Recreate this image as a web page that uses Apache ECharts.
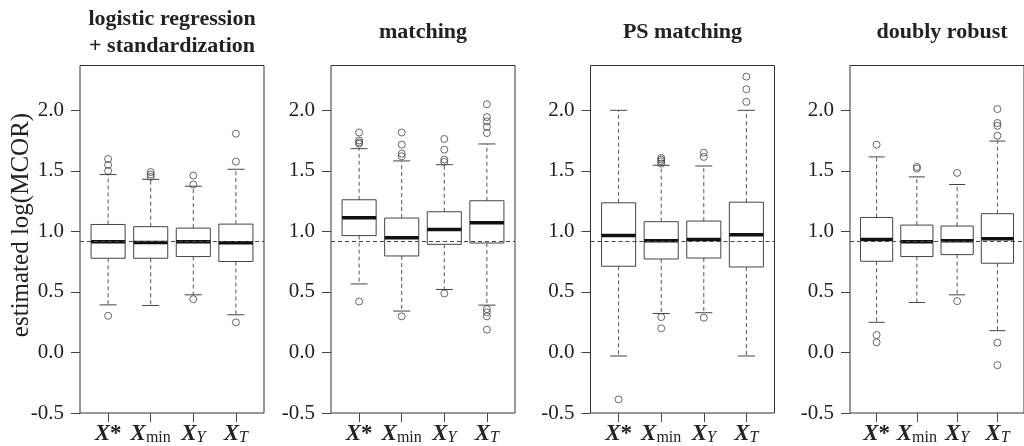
<!DOCTYPE html>
<html>
<head>
<meta charset="utf-8">
<script src="https://cdn.jsdelivr.net/npm/echarts@6/dist/echarts.min.js"></script>
<style>
  html, body { margin: 0; padding: 0; background: #fff; }
  #chart { width: 1024px; height: 446px; }
</style>
</head>
<body>
<div id="chart"></div>
<script>
// panel titles (one per estimation method)
const methodTitles = ['logistic regression\n+ standardization', 'matching', 'PS matching', 'doubly robust'];

// covariate sets, placed at 1..4 like R's boxplot
const setPositions = [1, 2, 3, 4];
const setLabels = ['{x|X}{star|*}', '{x|X}{sub|min}', '{x|X}{subi|Y}', '{x|X}{subi|T}'];

// y axis ticks
const yTicks = [-0.5, 0, 0.5, 1, 1.5, 2];

// true value drawn as the dashed line
const trueValue = 0.92;

// box stats per set: [lower whisker, Q1, median, Q3, upper whisker]
const logisticStats = [
  [0.393, 0.778, 0.915, 1.057, 1.469],
  [0.388, 0.778, 0.909, 1.039, 1.430],
  [0.476, 0.792, 0.915, 1.027, 1.373],
  [0.311, 0.751, 0.907, 1.060, 1.513]
];
const logisticOutliers = [
  [0.303, 1.500, 1.549, 1.598],
  [1.450, 1.470, 1.490],
  [0.440, 1.387, 1.461],
  [0.248, 1.576, 1.807]
];

const matchingStats = [
  [0.566, 0.965, 1.113, 1.261, 1.683],
  [0.342, 0.797, 0.948, 1.110, 1.582],
  [0.520, 0.893, 1.016, 1.162, 1.551],
  [0.391, 0.904, 1.072, 1.253, 1.722]
];
const matchingOutliers = [
  [0.421, 1.724, 1.735, 1.751, 1.817],
  [0.298, 1.620, 1.642, 1.716, 1.817],
  [0.487, 1.574, 1.593, 1.675, 1.763],
  [0.188, 0.298, 0.331, 0.358, 1.812, 1.864, 1.908, 1.944, 2.050]
];

const psStats = [
  [-0.029, 0.712, 0.967, 1.236, 2.000],
  [0.322, 0.772, 0.923, 1.080, 1.546],
  [0.328, 0.780, 0.932, 1.085, 1.540],
  [-0.029, 0.706, 0.973, 1.241, 2.000]
];
const psOutliers = [
  [-0.388],
  [0.199, 0.292, 1.560, 1.579, 1.593, 1.607],
  [0.287, 1.615, 1.650],
  [2.070, 2.174, 2.278]
];

const drStats = [
  [0.249, 0.753, 0.932, 1.115, 1.615],
  [0.413, 0.792, 0.915, 1.052, 1.450],
  [0.476, 0.808, 0.923, 1.044, 1.387],
  [0.180, 0.737, 0.940, 1.146, 1.746]
];
const drOutliers = [
  [0.084, 0.144, 1.716],
  [1.519, 1.533],
  [0.424, 1.483],
  [-0.105, 0.081, 1.790, 1.872, 1.895, 2.010]
];

const allStats = [logisticStats, matchingStats, psStats, drStats];
const allOutliers = [logisticOutliers, matchingOutliers, psOutliers, drOutliers];

const serif = '"Liberation Serif", "DejaVu Serif", serif';
const panelLeft = [80, 331, 590.5, 850];
const panelWidth = 184;

const chart = echarts.init(document.getElementById('chart'));

// draws one R-style box: open box, dashed whiskers, short staples, thick median
function renderBox(params, api) {
  const x = api.value(0);
  const lo = api.coord([x, api.value(1)]);
  const q1 = api.coord([x, api.value(2)]);
  const med = api.coord([x, api.value(3)]);
  const q3 = api.coord([x, api.value(4)]);
  const hi = api.coord([x, api.value(5)]);
  const half = api.size([0.8, 0])[0] / 2;
  const cap = half / 2;
  const cx = lo[0];
  const thin = { stroke: '#444', lineWidth: 1 };
  const dashed = { stroke: '#555', lineWidth: 1, lineDash: [4, 3] };
  return {
    type: 'group',
    children: [
      { type: 'line', shape: { x1: cx, y1: q3[1], x2: cx, y2: hi[1] }, style: dashed },
      { type: 'line', shape: { x1: cx, y1: q1[1], x2: cx, y2: lo[1] }, style: dashed },
      { type: 'line', shape: { x1: cx - cap, y1: hi[1], x2: cx + cap, y2: hi[1] }, style: thin },
      { type: 'line', shape: { x1: cx - cap, y1: lo[1], x2: cx + cap, y2: lo[1] }, style: thin },
      { type: 'rect', shape: { x: cx - half, y: q3[1], width: half * 2, height: q1[1] - q3[1] },
        style: { fill: 'none', stroke: '#444', lineWidth: 1 } },
      { type: 'line', shape: { x1: cx - half, y1: med[1], x2: cx + half, y2: med[1] },
        style: { stroke: '#111', lineWidth: 3.5 } }
    ]
  };
}

const grids = [], xAxes = [], yAxes = [], titles = [], series = [];

methodTitles.forEach((name, i) => {
  grids.push({
    left: panelLeft[i], width: panelWidth, top: 65.5, height: 348.5,
    show: true, borderColor: '#333', borderWidth: 1, backgroundColor: 'transparent'
  });
  titles.push({
    text: name,
    left: panelLeft[i] + panelWidth / 2,
    top: i === 0 ? 6 : 19,
    textAlign: 'center',
    padding: 0,
    textStyle: { fontFamily: serif, fontWeight: 'bold', fontSize: 22, lineHeight: 27, color: '#222' }
  });
  xAxes.push({
    gridIndex: i, type: 'value', min: 0.34, max: 4.66,
    axisLine: { show: false, onZero: false },
    splitLine: { show: false },
    axisTick: { customValues: setPositions, length: 9, lineStyle: { color: '#444' } },
    axisLabel: {
      customValues: setPositions,
      margin: 9,
      formatter: v => setLabels[setPositions.indexOf(v)] || '',
      rich: {
        x: { fontFamily: serif, fontWeight: 'bold', fontStyle: 'italic', fontSize: 23, lineHeight: 24, color: '#222' },
        star: { fontFamily: serif, fontWeight: 'bold', fontSize: 23, lineHeight: 24, color: '#222' },
        sub: { fontFamily: serif, fontSize: 16, lineHeight: 8, verticalAlign: 'bottom', color: '#222' },
        subi: { fontFamily: serif, fontStyle: 'italic', fontSize: 16, lineHeight: 8, verticalAlign: 'bottom', color: '#222' }
      }
    }
  });
  yAxes.push({
    gridIndex: i, type: 'value', min: -0.5, max: 2.37,
    axisLine: { show: false, onZero: false },
    splitLine: { show: false },
    axisTick: { customValues: yTicks, length: 9, lineStyle: { color: '#444' } },
    axisLabel: {
      customValues: yTicks,
      margin: 16,
      formatter: v => v.toFixed(1),
      fontFamily: serif, fontSize: 21, color: '#222'
    }
  });
  series.push({
    type: 'custom',
    xAxisIndex: i, yAxisIndex: i,
    renderItem: renderBox,
    encode: { x: 0, y: [1, 2, 3, 4, 5] },
    data: allStats[i].map((s, j) => [setPositions[j]].concat(s)),
    z: 2,
    silent: true
  });
  const pts = [];
  allOutliers[i].forEach((list, j) => list.forEach(v => pts.push([setPositions[j], v])));
  series.push({
    type: 'scatter',
    xAxisIndex: i, yAxisIndex: i,
    symbol: 'circle', symbolSize: 7,
    itemStyle: { color: 'rgba(0,0,0,0)', borderColor: '#444', borderWidth: 1 },
    data: pts,
    z: 3,
    silent: true,
    markLine: {
      silent: true, symbol: 'none',
      label: { show: false },
      lineStyle: { type: [4, 3], color: '#444', width: 1 },
      data: [{ yAxis: trueValue }]
    }
  });
});

chart.setOption({
  animation: false,
  backgroundColor: '#fff',
  title: titles,
  grid: grids,
  xAxis: xAxes,
  yAxis: yAxes,
  series: series,
  graphic: [{
    type: 'text', x: 21, y: 225, rotation: Math.PI / 2,
    style: {
      text: 'estimated log(MCOR)',
      font: '25px "Liberation Serif"',
      fill: '#222', align: 'center', verticalAlign: 'middle'
    }
  }]
});
</script>
</body>
</html>
